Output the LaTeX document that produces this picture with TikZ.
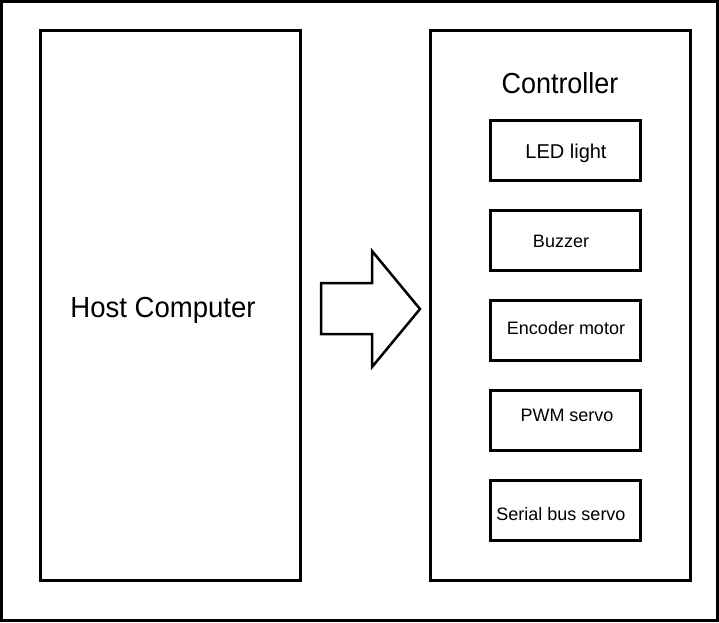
\documentclass[tikz,border=0pt]{standalone}
\usepackage{fontspec}
\setmainfont{Liberation Sans}
\usetikzlibrary{positioning}

\tikzset{
  block/.style={draw,line width=3pt,minimum width=260pt,minimum height=550pt,inner sep=0pt,outer sep=0pt},
  part/.style={draw,line width=3pt,minimum width=150pt,minimum height=60pt,inner sep=0pt,font=\fontsize{18}{20}\selectfont},
}

\begin{document}
\begin{tikzpicture}[x=1pt,y=-1pt]
	\useasboundingbox (0,0) rectangle (719,622);
	\draw[line width=3pt] (1.5,1.5) rectangle (717.5,620.5);
	\node[block] (host) at (170,305) {};
	\node[font=\fontsize{29}{32}\selectfont,xscale=0.95] (hostlbl) at (163,310) {Host Computer};
	\node[block] (ctrl) at (560,305) {};
	\node[font=\fontsize{29}{32}\selectfont,xscale=0.93] (ctrllbl) at (560,83) {Controller};
	\node[part] (led) at (565,150) {};
	\node[part] (buzz) [below=27pt of led] {};
	\node[part] (enc) [below=27pt of buzz] {};
	\node[part] (pwm) [below=27pt of enc] {};
	\node[part] (bus) [below=27pt of pwm] {};
	\node[font=\fontsize{20}{22}\selectfont] at ([xshift=1pt,yshift=-3pt]led.center) {LED light};
	\node[font=\fontsize{18}{20}\selectfont] at ([xshift=-4pt,yshift=-1pt]buzz.center) {Buzzer};
	\node[font=\fontsize{18}{20}\selectfont] at ([xshift=1pt,yshift=2pt]enc.center) {Encoder motor};
	\node[font=\fontsize{18}{20}\selectfont] at ([xshift=2pt,yshift=5pt]pwm.center) {PWM servo};
	\node[font=\fontsize{18}{20}\selectfont] at ([xshift=-4pt,yshift=-4pt]bus.center) {Serial bus servo};
	% arrow between the two blocks
	\draw[line width=2.5pt,line join=miter]
	  ([xshift=21pt,yshift=22pt]host.east) -- ++(51,0) -- ++(0,-32)
	  -- ([xshift=-10pt,yshift=-4pt]ctrl.west)
	  -- ([xshift=-58pt,yshift=-62pt]ctrl.west) -- ++(0,-33) -- ++(-51,0) -- cycle;
\end{tikzpicture}
\end{document}
